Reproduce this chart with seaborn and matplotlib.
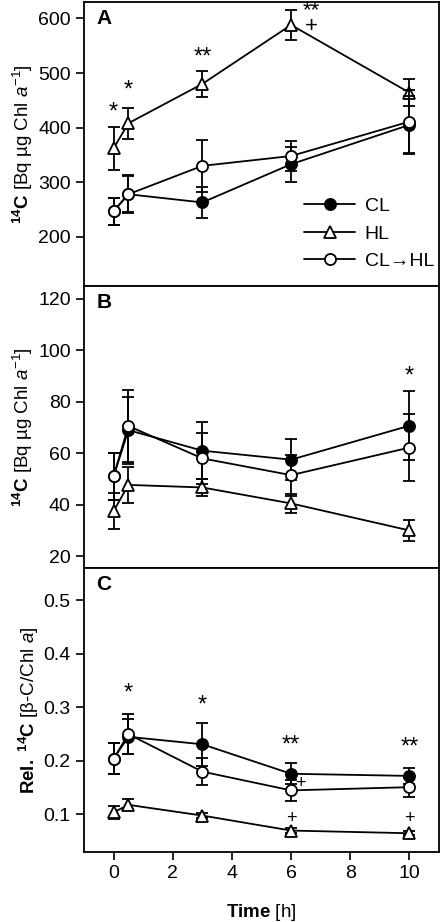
import matplotlib
matplotlib.use("Agg")
import matplotlib.pyplot as plt
import seaborn as sns
import numpy as np
import pandas as pd

sns.set_style("ticks", {"text.color": "black", "axes.labelcolor": "black",
                        "xtick.color": "black", "ytick.color": "black",
                        "axes.edgecolor": "black"})
plt.rcParams['font.family'] = ['Liberation Sans', 'DejaVu Sans']
plt.rcParams['mathtext.fontset'] = 'custom'
plt.rcParams['mathtext.rm'] = 'Liberation Sans'
plt.rcParams['mathtext.it'] = 'Liberation Sans:italic'
plt.rcParams['mathtext.bf'] = 'Liberation Sans:bold'

time = [0, 0.5, 3, 6, 10]
series = ["HL", "CL", "CL→HL"]

# Panel A
a_cl = [247, 278, 263, 333, 405]
a_cl_err = [25, 33, 29, 32, 53]
a_hl = [362, 408, 480, 588, 464]
a_hl_err = [40, 28, 24, 28, 25]
a_clhl = [247, 278, 330, 348, 411]
a_clhl_err = [25, 35, 47, 27, 58]

# Panel B
b_cl = [51, 69, 61, 57.5, 70.7]
b_cl_err = [9, 13, 11, 8, 13.5]
b_hl = [37.5, 47.7, 46.7, 40.5, 30]
b_hl_err = [7, 7, 3.4, 3.7, 4]
b_clhl = [51, 70.6, 58, 51.5, 62.2]
b_clhl_err = [9, 14, 10, 8, 13]

# Panel C
c_cl = [0.204, 0.245, 0.231, 0.176, 0.172]
c_cl_err = [0.029, 0.033, 0.04, 0.02, 0.015]
c_hl = [0.104, 0.118, 0.098, 0.070, 0.065]
c_hl_err = [0.012, 0.01, 0.004, 0.004, 0.004]
c_clhl = [0.204, 0.250, 0.180, 0.145, 0.151]
c_clhl_err = [0.029, 0.038, 0.025, 0.02, 0.018]

# significance annotations: (x, y, text)
a_marks = [(0, 428, "*"), (0.5, 467, "*"), (3, 529, "**")]
a_stack = (6.7, 599, "**\n+")
b_marks = [(10, 90, "*")]
c_marks = [(0.5, 0.325, "*"), (3, 0.304, "*"), (6, 0.229, "**"), (10, 0.225, "**"),
           (6.3, 0.158, "+"), (6, 0.093, "+"), (10, 0.093, "+")]

W, H = 442, 922
fig = plt.figure(figsize=(W / 100, H / 100), dpi=100)
left, right = 84, 439
bounds = [(2, 286), (286, 568), (568, 852)]
axes = []
for top, bot in bounds:
    ax = fig.add_axes([left / W, 1 - bot / H, (right - left) / W, (bot - top) / H])
    axes.append(ax)

styles = {
    "CL": dict(marker="o", markerfacecolor="black"),
    "HL": dict(marker="^", markerfacecolor="white"),
    "CL→HL": dict(marker="o", markerfacecolor="white"),
}

panels = [
    (axes[0], {"CL": (a_cl, a_cl_err), "HL": (a_hl, a_hl_err), "CL→HL": (a_clhl, a_clhl_err)},
     (110, 630), [200, 300, 400, 500, 600], a_marks, "A",
     r"$\mathbf{^{14}C}$ [Bq µg Chl $\mathit{a}^{-1}$]"),
    (axes[1], {"CL": (b_cl, b_cl_err), "HL": (b_hl, b_hl_err), "CL→HL": (b_clhl, b_clhl_err)},
     (15.4, 125), [20, 40, 60, 80, 100, 120], b_marks, "B",
     r"$\mathbf{^{14}C}$ [Bq µg Chl $\mathit{a}^{-1}$]"),
    (axes[2], {"CL": (c_cl, c_cl_err), "HL": (c_hl, c_hl_err), "CL→HL": (c_clhl, c_clhl_err)},
     (0.03, 0.56), [0.1, 0.2, 0.3, 0.4, 0.5], c_marks, "C",
     r"$\mathbf{Rel.\ ^{14}C}$ [β-C/Chl $\mathit{a}$]"),
]

for ax, data, ylim, yticks, marks, letter, ylabel in panels:
    for z, name in enumerate(["HL", "CL", "CL→HL"]):
        vals, errs = data[name]
        ax.errorbar(time, vals, yerr=errs, fmt="none", ecolor="black",
                    elinewidth=1.3, capsize=4, capthick=1.3, zorder=2 + z)
        df = pd.DataFrame({"Time": time, "val": vals})
        sns.lineplot(data=df, x="Time", y="val", ax=ax, color="black", linewidth=1.3,
                     markersize=8, markeredgecolor="black", markeredgewidth=1.3,
                     label=name, zorder=3 + z, **styles[name])
    for x, y, t in marks:
        if t == "+":
            ax.text(x, y, t, ha="center", va="center", fontsize=13)
        else:
            ax.text(x, y, t, ha="center", va="center", fontsize=17)
    ax.set_xlim(-1, 11)
    ax.set_ylim(*ylim)
    ax.set_yticks(yticks)
    ax.set_ylabel(ylabel, fontsize=13.5, labelpad=2)
    ax.text(0.035, 0.975, letter, transform=ax.transAxes, fontsize=15,
            fontweight="bold", ha="left", va="top")
    ax.tick_params(axis="both", direction="out", length=6, width=1.2, labelsize=14,
                   colors="black")
    for s in ax.spines.values():
        s.set_linewidth(1.3)
        s.set_visible(True)
    if ax is not axes[2]:
        ax.set_xticks([])
        ax.set_xlabel("")
    if ax is axes[0]:
        h, l = ax.get_legend_handles_labels()
        order = [l.index(n) for n in ["CL", "HL", "CL→HL"]]
        ax.legend([h[i] for i in order], [l[i] for i in order], loc="lower right",
                  bbox_to_anchor=(1.035, -0.005), frameon=False, fontsize=14,
                  handlelength=2.6, labelspacing=0.5, handletextpad=0.5)
    else:
        lg = ax.get_legend()
        if lg is not None:
            lg.remove()

axes[0].text(a_stack[0], a_stack[1], a_stack[2], ha="center", va="center",
             fontsize=16, linespacing=0.68, multialignment="center")

axes[2].set_xticks([0, 2, 4, 6, 8, 10])
axes[2].set_xlabel(r"$\mathbf{Time}$ [h]", fontsize=13.5, labelpad=14)

fig.savefig("out.png", dpi=100)
